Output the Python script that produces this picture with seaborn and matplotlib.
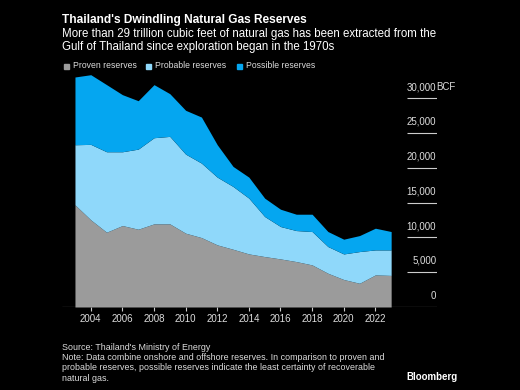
import numpy as np
import matplotlib
matplotlib.use("Agg")
import matplotlib.pyplot as plt
import seaborn as sns

# data (BCF)
years = list(range(2003, 2024))
proven = [14690, 12530, 10750, 11710, 11180, 11950, 11950, 10610, 9980, 8930,
          8300, 7630, 7250, 6910, 6530, 6050, 4850, 3950, 3410, 4610, 4540]
# cumulative tops of the stacks
probable_top = [23330, 23380, 22320, 22320, 22700, 24340, 24530, 21980, 20690, 18670,
                17330, 15650, 13010, 11570, 10990, 10850, 8690, 7630, 7970, 8210, 8210]
total_top = [33070, 33400, 31970, 30530, 29660, 31970, 30670, 28280, 27310, 23330,
             20210, 18670, 15650, 14060, 13340, 13340, 10850, 9750, 10270, 11330, 10850]

probable = [b - a for a, b in zip(proven, probable_top)]
possible = [c - b for b, c in zip(probable_top, total_top)]

series_names = ["Proven reserves", "Probable reserves", "Possible reserves"]
colors = ["#9b9b9b", "#8fd8fa", "#05a6f0"]
yticks = [0, 5000, 10000, 15000, 20000, 25000, 30000]
xticks = [2004, 2006, 2008, 2010, 2012, 2014, 2016, 2018, 2020, 2022]

sns.set_style("dark", {"axes.facecolor": "black", "figure.facecolor": "black"})
plt.rcParams['font.family'] = ['Liberation Sans', 'DejaVu Sans']

fig = plt.figure(figsize=(5.2, 3.9), dpi=100)
ax = fig.add_axes([62 / 520, 1 - 307 / 390, (437 - 62) / 520, (307 - 74) / 390])
ax.set_facecolor("black")

ax.stackplot(years, proven, probable, possible, colors=colors, linewidth=0)

xmin, xmax = 2002.18, 2025.9
ax.set_xlim(xmin, xmax)
ax.set_ylim(0, 33500)
ax.grid(False)
for s in ax.spines.values():
    s.set_visible(False)
ax.axhline(0, color="#cccccc", lw=0.8)

# right-side tick segments with labels above
ax.hlines(yticks[1:], 2024.0, xmax, color="#cccccc", lw=0.8)
for v in yticks:
    ax.text(xmax - 0.05, v + 900, f"{v:,}", color="#dddddd", fontsize=7,
            ha="right", va="bottom")
ax.text(xmax - 0.02, 30000 + 900, "BCF", color="#dddddd", fontsize=7,
        ha="left", va="bottom")
ax.set_yticks([])

ax.set_xticks(xticks)
ax.set_xticklabels([str(x) for x in xticks], color="#dddddd", fontsize=7)
ax.tick_params(axis="x", length=3, color="#cccccc", pad=2, bottom=True)

# title, subtitle
fig.text(62 / 520, 1 - 20 / 390, "Thailand's Dwindling Natural Gas Reserves",
         color="white", fontsize=8.6, fontweight="bold", va="center")
fig.text(62 / 520, 1 - 40.5 / 390,
         "More than 29 trillion cubic feet of natural gas has been extracted from the\n"
         "Gulf of Thailand since exploration began in the 1970s",
         color="white", fontsize=8.3, va="center", linespacing=1.12)

# legend
legend_x = [64, 146, 237]
for x0, name, c in zip(legend_x, series_names, colors):
    fig.patches.append(plt.Rectangle((x0 / 520, 1 - 68.5 / 390), 5 / 520, 5 / 390,
                                     transform=fig.transFigure, color=c))
    fig.text((x0 + 9) / 520, 1 - 66 / 390, name, color="#dddddd",
             fontsize=6.2, va="center")

# footer
fig.text(62 / 520, 1 - 348 / 390, "Source: Thailand's Ministry of Energy",
         color="#dddddd", fontsize=6.4, va="center")
fig.text(62 / 520, 1 - 353 / 390,
         "Note: Data combine onshore and offshore reserves. In comparison to proven and\n"
         "probable reserves, possible reserves indicate the least certainty of recoverable\n"
         "natural gas.",
         color="#dddddd", fontsize=6.4, va="top", linespacing=1.18)
fig.text(458 / 520, 1 - 377 / 390, "Bloomberg", color="white", fontsize=7,
         fontweight="bold", ha="right", va="center")

fig.savefig("out.png", dpi=100, facecolor="black")
